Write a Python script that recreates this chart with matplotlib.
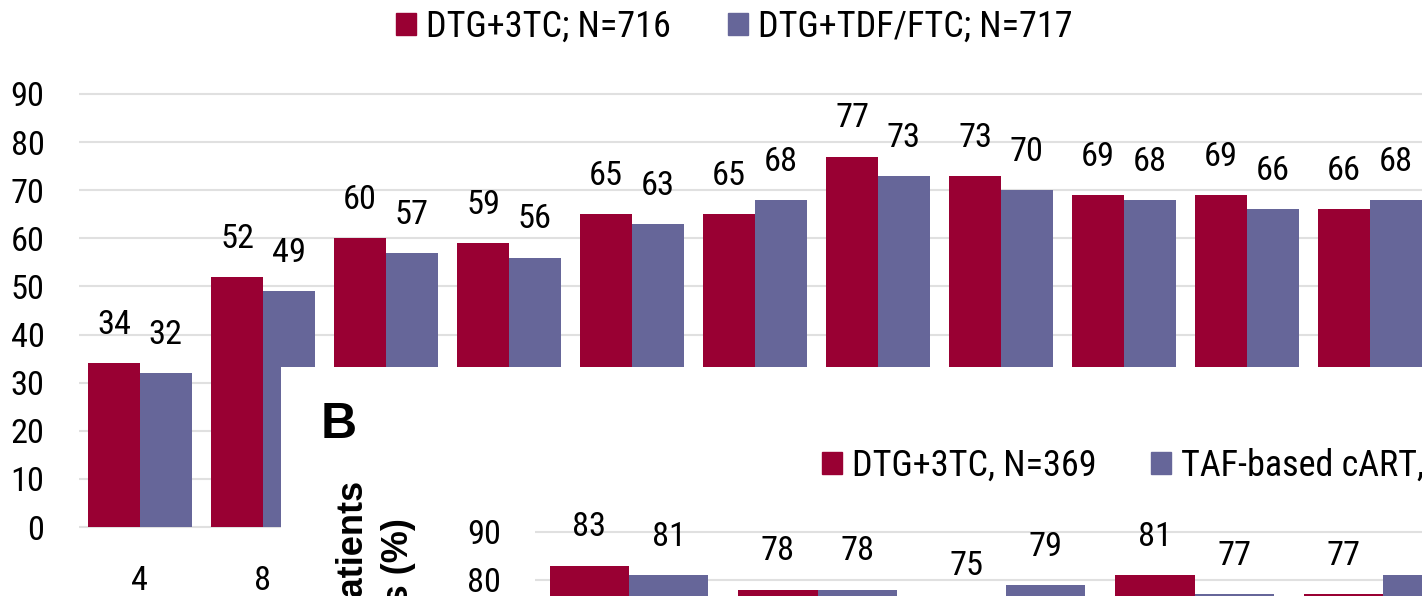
import matplotlib
matplotlib.use("Agg")
import matplotlib.pyplot as plt
import matplotlib.font_manager as fm
from matplotlib.font_manager import FontProperties
from matplotlib.textpath import TextPath
from matplotlib.patches import Patch, Rectangle
import numpy as np

# ---------------- data ----------------
weeks_a = ["4", "8", "12", "16", "24", "36", "48", "60", "72", "84", "96"]
dtg3tc_a = [34, 52, 60, 59, 65, 65, 77, 73, 69, 69, 66]
dtgtdf_a = [32, 49, 57, 56, 63, 68, 73, 70, 68, 66, 68]
series_a = ["DTG+3TC; N=716", "DTG+TDF/FTC; N=717"]

weeks_b = ["4", "8", "12", "24", "48"]
dtg3tc_b = [83, 78, 75, 81, 77]
taf_b = [81, 78, 79, 77, 81]
series_b = ["DTG+3TC, N=369", "TAF-based cART, N=372"]

yticks = [0, 10, 20, 30, 40, 50, 60, 70, 80, 90]
ylabel_b = ["Proportion of patients", "with HIV-1 RNA <50 copies (%)"]

RED = "#990033"
BLUE = "#666699"
GRID = "#e0e0e0"

# ---------------- fonts ----------------
ttf = fm.fontManager.ttflist
names = {f.name for f in ttf}
F = "Liberation Sans"
for cand in ["Liberation Sans Narrow", "Arial Narrow", "Roboto Condensed", "Archivo Narrow"]:
    if cand in names:
        F = cand
        break
FB = "Liberation Sans"
plt.rcParams["font.family"] = [F, "DejaVu Sans"]

PXPT = 100 / 72


def ink(text, family, weight="normal"):
    e = TextPath((0, 0), text, size=100, prop=FontProperties(family=family, weight=weight)).get_extents()
    return e.width / 100, e.height / 100


def fit(family, wtext, tw, htext, th, weight="normal"):
    w, _ = ink(wtext, family, weight)
    _, h = ink(htext, family, weight)
    return ((tw / (w * PXPT)) * (th / (h * PXPT))) ** 0.5


FS = fit(F, "90", 31, "90", 24.5)
FSL = fit(F, "DTG+3TC; N=716", 244, "DTGN", 24.5) * 1.03
FSB = fit(FB, "B", 30, "B", 35, "bold")
EM_L = FSL * PXPT

W, H = 1422, 596
fig = plt.figure(figsize=(W / 100, H / 100), dpi=100)


def fx(x):
    return x / W


def fy(y):
    return 1 - y / H


def make_axes(left_px, right_px, y0_px, ppu, ylo, yhi, zorder):
    top_px = y0_px - yhi * ppu
    bot_px = y0_px - ylo * ppu
    ax = fig.add_axes([fx(left_px), fy(bot_px), (right_px - left_px) / W, (bot_px - top_px) / H])
    ax.set_zorder(zorder)
    ax.set_ylim(ylo, yhi)
    return ax


def draw_bars(ax, vals1, vals2, cats):
    x = np.arange(len(cats))
    w = 0.42
    b1 = ax.bar(x - w / 2, vals1, w, color=RED, zorder=2)
    b2 = ax.bar(x + w / 2, vals2, w, color=BLUE, zorder=2)
    ax.bar_label(b1, labels=[str(v) for v in vals1], padding=16, fontsize=FS, clip_on=False)
    ax.bar_label(b2, labels=[str(v) for v in vals2], padding=16, fontsize=FS, clip_on=False)
    ax.set_xticks(x)
    ax.set_xticklabels(cats, fontsize=FS)
    ax.set_yticks(yticks)
    ax.set_yticklabels([str(t) for t in yticks], fontsize=FS)
    ax.tick_params(axis="both", length=0)
    ax.tick_params(axis="y", pad=24.5)
    ax.tick_params(axis="x", pad=24)
    ax.yaxis.grid(True, color=GRID, linewidth=1.5)
    ax.set_axisbelow(True)
    for s in ax.spines.values():
        s.set_visible(False)


def legend_at(labels, x_px, y_px, colsp_px):
    return fig.legend(handles=[Patch(color=RED), Patch(color=BLUE)], labels=labels,
                      loc="center left", bbox_to_anchor=(fx(x_px), fy(y_px)), ncol=2,
                      frameon=False, handlelength=19.5 / EM_L, handleheight=19.5 / EM_L,
                      handletextpad=10 / EM_L, columnspacing=colsp_px / EM_L,
                      borderpad=0, borderaxespad=0, fontsize=FSL)


# ---------------- panel A ----------------
ppu_a = (527 - 94) / 90
pitch_a = 123.0
left_a = 140 - 0.5 * pitch_a
axA = make_axes(left_a, W, 527, ppu_a, -1, 91, 1)
axA.set_facecolor("none")
axA.set_xlim(-0.5, (W - left_a) / pitch_a - 0.5)
draw_bars(axA, dtg3tc_a, dtgtdf_a, weeks_a)

legend_at(series_a, 396, 27, 58)

# ---------------- white cover of panel B ----------------
cover = Rectangle((fx(281), 0), 1 - fx(281), fy(367), transform=fig.transFigure,
                  facecolor="white", edgecolor="none", zorder=1.5)
fig.add_artist(cover)

# ---------------- panel B ----------------
ppu_b = (580 - 532) / 10
pitch_b = 188.5
left_b = 629 - 0.5 * pitch_b
y0_b = 532 + 90 * ppu_b
axB = make_axes(left_b, W, y0_b, ppu_b, 0, 91, 2)
axB.set_facecolor("none")
axB.set_xlim(-0.5, (W - left_b) / pitch_b - 0.5)
draw_bars(axB, dtg3tc_b, taf_b, weeks_b)

fig.text(fx(321), fy(425), "B", ha="left", va="center", fontsize=FSB,
         fontweight="bold", family=[FB, "DejaVu Sans"], zorder=3)
fig.text(fx(363), fy(481), ylabel_b[0], rotation=90, rotation_mode="anchor",
         ha="right", va="baseline", fontsize=26, fontweight="bold",
         family=["Liberation Sans", "DejaVu Sans"], zorder=3)
fig.text(fx(408), fy(518), ylabel_b[1], rotation=90, rotation_mode="anchor",
         ha="right", va="baseline", fontsize=26, fontweight="bold",
         family=["Liberation Sans", "DejaVu Sans"], zorder=3)

legB = legend_at(series_b, 822, 466, 55)
legB.set_zorder(3)

fig.savefig("out.png", dpi=100)
